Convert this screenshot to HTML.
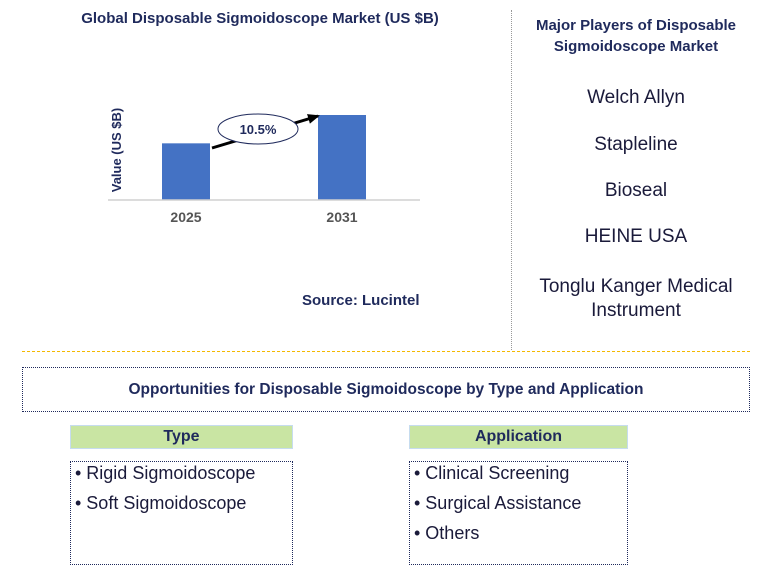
<!DOCTYPE html>
<html><head><meta charset="utf-8">
<style>
body{margin:0;width:777px;height:584px;background:#fff;font-family:"Liberation Sans",sans-serif;position:relative;overflow:hidden}
.a{position:absolute}
.t{color:#1f2a5c;font-weight:bold}
.p{position:absolute;left:511px;width:250px;text-align:center;font-size:19px;color:#1a1a3a}
.hdr{position:absolute;background:#c9e5a3;border:1px solid #c6dcef;text-align:center;font-weight:bold;color:#1f2a5c;font-size:16px;line-height:22px}
.lst{position:absolute;border:1px dotted #1f2a5c;font-size:18px;color:#1a1a3a;line-height:30px;padding-left:4px;padding-top:-4px;box-sizing:border-box}
.lst div{position:relative;top:-4px}
</style></head><body>
<div class="a t" style="left:60px;top:10px;width:400px;text-align:center;font-size:15px">Global Disposable Sigmoidoscope Market (US $B)</div>
<svg class="a" style="left:0;top:0" width="511" height="330">
<defs><marker id="ah" markerUnits="userSpaceOnUse" markerWidth="12" markerHeight="10" refX="10" refY="5" orient="auto"><path d="M0,0 L12,5 L0,10 z" fill="#000"/></marker></defs>
<g id="bars"></g>
<line x1="108" y1="200" x2="420" y2="200" stroke="#d0d0d0" stroke-width="1.5"/>
<text x="0" y="0" transform="translate(121,150) rotate(-90)" text-anchor="middle" font-size="13" font-weight="bold" fill="#1f2a5c">Value (US $B)</text>
<line x1="212" y1="148" x2="318" y2="116" stroke="#000" stroke-width="3" marker-end="url(#ah)"/>
<ellipse cx="258" cy="129" rx="40" ry="15" fill="#fff" stroke="#1f2a5c"/>
<text x="258" y="134" text-anchor="middle" font-size="13" font-weight="bold" fill="#1f2a5c">10.5%</text>
</svg>
<script>
const categories=["2025","2031"];
const values=[2.0,3.0];
const yMax=3.0, baseY=200, plotH=85;
const xCenters={"2025":186,"2031":342};
function y(v){return baseY - v/yMax*plotH;}
const g=document.getElementById('bars');
const ns="http://www.w3.org/2000/svg";
categories.forEach((c,i)=>{
 const r=document.createElementNS(ns,'rect');
 r.setAttribute('x',xCenters[c]-24);r.setAttribute('width',48);
 r.setAttribute('y',y(values[i]));r.setAttribute('height',baseY-y(values[i]));
 r.setAttribute('fill','#4472c4');
 
 
 g.appendChild(r);
 const t=document.createElementNS(ns,'text');
 t.setAttribute('x',xCenters[c]);t.setAttribute('y',222);t.setAttribute('text-anchor','middle');
 t.setAttribute('font-size','14');t.setAttribute('font-weight','bold');t.setAttribute('fill','#555');
 t.textContent=c;
 
 
 g.appendChild(t);
});
</script>
<div class="a t" style="left:302px;top:292px;font-size:15px">Source: Lucintel</div>
<div class="a" style="left:511px;top:10px;height:340px;border-left:1px dotted #999"></div>
<div class="a t" style="left:511px;top:15px;width:250px;text-align:center;font-size:15px;line-height:21px">Major Players of Disposable Sigmoidoscope Market</div>
<div class="p" style="top:87px">Welch Allyn</div>
<div class="p" style="top:134px">Stapleline</div>
<div class="p" style="top:180px">Bioseal</div>
<div class="p" style="top:226px">HEINE USA</div>
<div class="p" style="top:275px;line-height:24px">Tonglu Kanger Medical Instrument</div>
<div class="a" style="left:22px;top:351px;width:728px;border-top:1px dashed #f5b800"></div>
<div class="a t" style="left:22px;top:367px;width:726px;height:43px;border:1px dotted #1f2a5c;text-align:center;line-height:43px;font-size:15.5px">Opportunities for Disposable Sigmoidoscope by Type and Application</div>
<div class="hdr" style="left:70px;top:425px;width:221px;height:22px">Type</div>
<div class="lst" style="left:70px;top:461px;width:223px;height:104px"><div>• Rigid Sigmoidoscope</div><div>• Soft Sigmoidoscope</div></div>
<div class="hdr" style="left:409px;top:425px;width:217px;height:22px">Application</div>
<div class="lst" style="left:409px;top:461px;width:219px;height:104px"><div>• Clinical Screening</div><div>• Surgical Assistance</div><div>• Others</div></div>
</body></html>
